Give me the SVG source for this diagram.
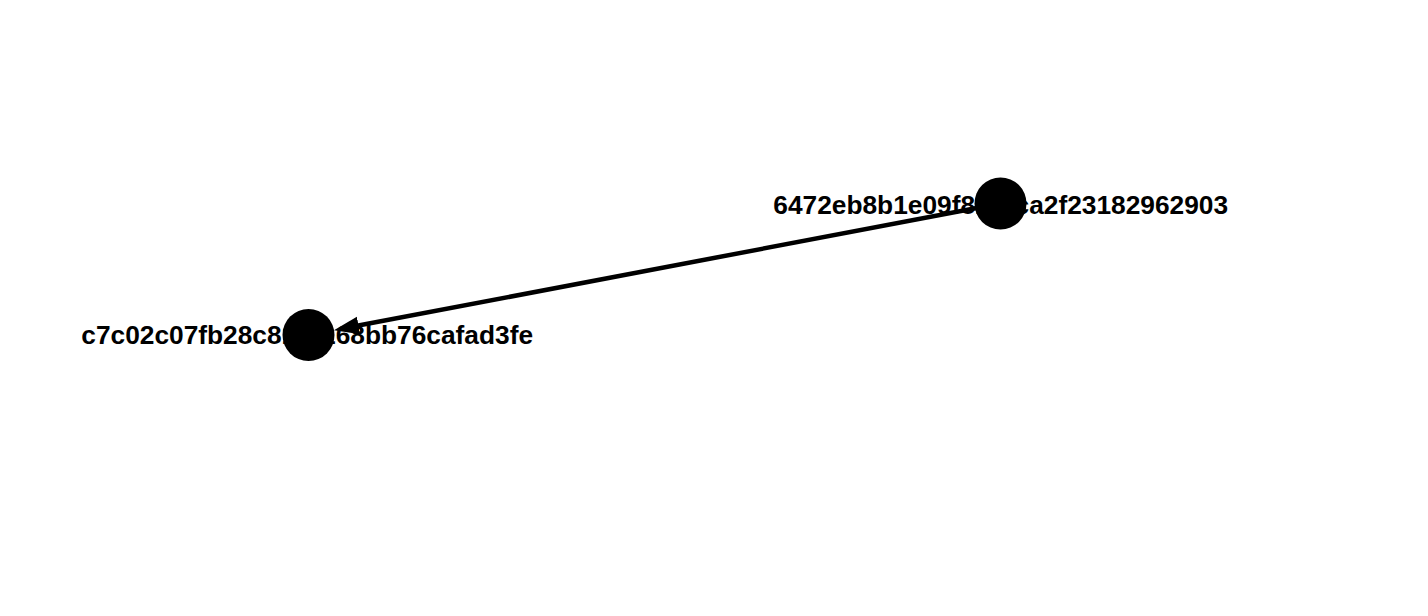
<svg xmlns="http://www.w3.org/2000/svg" width="1428" height="616" viewBox="0 0 1428 616">
<style>
.lbl{font-family:"Liberation Sans",Arial,sans-serif;font-weight:bold;font-size:26.3px;fill:#000}
.node{fill:#000}
.edge{stroke:#000;stroke-width:4.5;fill:none}
</style>
<defs>
<marker id="arr" markerUnits="userSpaceOnUse" markerWidth="30" markerHeight="24" viewBox="0 -12 30 24" refX="15" refY="0" orient="auto">
<path d="M0,-9 L25,0 L0,9 z" fill="#000"/>
</marker>
</defs>
<rect width="1428" height="616" fill="#fff"/>
<g id="labels">
<text class="lbl" x="773.3" y="214.3">6472eb8b1e09f81fdca2f23182962903</text>
<text class="lbl" x="81.3" y="344.3">c7c02c07fb28c81fd168bb76cafad3fe</text>
</g>
<g id="connectors">
<line class="edge" x1="1000.5" y1="203.5" x2="343.8" y2="328.3" marker-end="url(#arr)"/>
</g>
<g id="node-6472eb8b1e09f8">
<circle class="node" cx="1000.5" cy="203.5" r="26"/>
</g>
<g id="node-c7c02c07fb28c8">
<circle class="node" cx="308.5" cy="335" r="26"/>
</g>
</svg>
